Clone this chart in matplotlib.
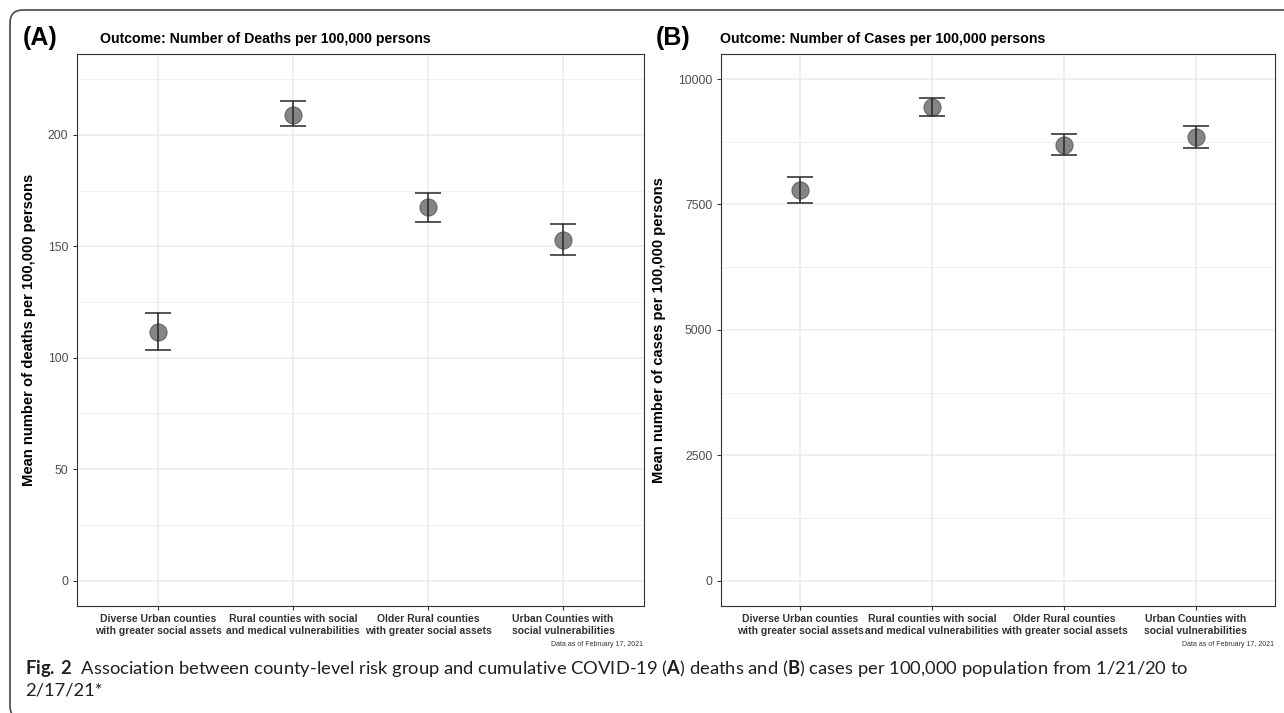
import matplotlib
matplotlib.use("Agg")
import matplotlib.pyplot as plt
from matplotlib.patches import FancyBboxPatch
from matplotlib.transforms import IdentityTransform
import numpy as np

# ---------------- data ----------------
categories = [
    "Diverse Urban counties\nwith greater social assets",
    "Rural counties with social\nand medical vulnerabilities",
    "Older Rural counties\nwith greater social assets",
    "Urban Counties with\nsocial vulnerabilities",
]
deaths_mean = [111.7, 209.1, 167.4, 153.0]
deaths_low = [103.3, 203.8, 160.8, 146.1]
deaths_high = [119.9, 215.0, 174.1, 160.0]

cases_mean = [7785, 9442, 8684, 8844]
cases_low = [7520, 9268, 8478, 8618]
cases_high = [8045, 9621, 8898, 9060]

deaths_ticks = [0, 50, 100, 150, 200]
cases_ticks = [0, 2500, 5000, 7500, 10000]

# ---------------- layout ----------------
W, H = 1284, 713
plt.rcParams["font.family"] = ["Liberation Sans", "DejaVu Sans"]
plt.rcParams["mathtext.fontset"] = "custom"
plt.rcParams["mathtext.rm"] = "Lato"
plt.rcParams["mathtext.bf"] = "Lato:bold"

fig = plt.figure(figsize=(W / 100, H / 100), dpi=100)


def fx(px):
    return px / W


def fy(py):
    return 1 - py / H


def panel(left, right, top, bottom, mean, low, high, yticks, ylim, ylabel, label_x):
    ax = fig.add_axes([fx(left), fy(bottom), (right - left) / W, (bottom - top) / H])
    x = np.arange(len(categories))
    mean = np.asarray(mean, float)
    low = np.asarray(low, float)
    high = np.asarray(high, float)
    ax.scatter(x, mean, s=150, facecolor="#858585", edgecolor="#666666",
               linewidth=0.8, zorder=3)
    ax.errorbar(x, mean, yerr=[mean - low, high - mean], fmt="none",
                ecolor="#262626", elinewidth=1.1, capsize=9.6, capthick=1.1,
                zorder=4)
    ax.set_yticks(yticks)
    step = yticks[1] - yticks[0]
    minor = [t + step / 2 for t in yticks[:-1]]
    if yticks[-1] + step / 2 < ylim[1]:
        minor.append(yticks[-1] + step / 2)
    ax.set_yticks(minor, minor=True)
    ax.set_xlim(-0.6, len(categories) - 0.4)
    ax.set_ylim(*ylim)
    ax.set_axisbelow(True)
    ax.grid(which="major", color="#EBEBEB", lw=1.1)
    ax.grid(which="minor", axis="y", color="#EBEBEB", lw=0.55)
    ax.tick_params(axis="y", which="minor", length=0)
    ax.tick_params(which="major", direction="out", length=2.9, width=0.8,
                   color="#333333", pad=3.4)
    ax.tick_params(axis="y", labelsize=8.8, labelcolor="#4D4D4D")
    ax.set_xticks(x)
    ax.set_xticklabels(categories, fontsize=7.5, fontweight="bold",
                       color="#333333", linespacing=1.2)
    for s in ax.spines.values():
        s.set_color("#333333")
        s.set_linewidth(0.8)
    ax.set_ylabel(ylabel, fontsize=10.6, fontweight="bold", color="black")
    ax.yaxis.set_label_coords((label_x - left) / (right - left), 0.5)
    return ax


axA = panel(77, 644, 54, 605.7, deaths_mean, deaths_low, deaths_high,
            deaths_ticks, (-11.25, 236.25),
            "Mean number of deaths per 100,000 persons", 36)
axB = panel(721, 1275, 54, 605.7, cases_mean, cases_low, cases_high,
            cases_ticks, (-500, 10500),
            "Mean number of cases per 100,000 persons", 666)

# panel labels and titles
fig.text(fx(23), fy(38), "(A)", fontsize=18, fontweight="bold", va="center")
fig.text(fx(100), fy(39), "Outcome: Number of Deaths per 100,000 persons",
         fontsize=10.2, fontweight="bold", va="center")
fig.text(fx(656), fy(38), "(B)", fontsize=18, fontweight="bold", va="center")
fig.text(fx(720), fy(39), "Outcome: Number of Cases per 100,000 persons",
         fontsize=10.2, fontweight="bold", va="center")

fig.text(fx(643), fy(644), "Data as of February 17, 2021", fontsize=5,
         ha="right", va="center", color="#333333")
fig.text(fx(1274), fy(644), "Data as of February 17, 2021", fontsize=5,
         ha="right", va="center", color="#333333")

# caption
cap1 = (r"$\bf{Fig.\,2}$  Association between county-level risk group and cumulative "
        r"COVID-19 ($\bf{A}$) deaths and ($\bf{B}$) cases per 100,000 population from 1/21/20 to")
cap2 = "2/17/21*"
fig.text(fx(25), fy(674), cap1, fontsize=13.2, family="Lato", va="baseline",
         color="#231F20")
fig.text(fx(25), fy(695), cap2, fontsize=13.2, family="Lato", va="baseline",
         color="#231F20")

# rounded frame
frame = FancyBboxPatch((10, -6), 1300, 709, boxstyle="round,pad=0,rounding_size=13",
                       transform=IdentityTransform(), facecolor="none",
                       edgecolor="#555555", linewidth=1.3)
fig.add_artist(frame)

fig.savefig("out.png", dpi=100)
